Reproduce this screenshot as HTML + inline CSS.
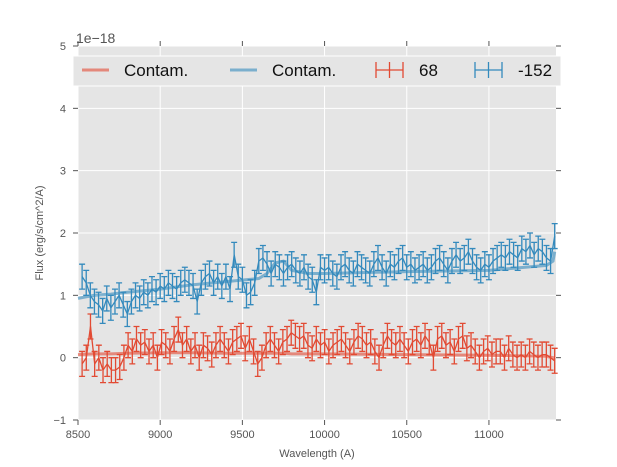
<!DOCTYPE html>
<html><head><meta charset="utf-8">
<style>
html,body{margin:0;padding:0;background:#fff;}
svg{display:block;font-family:"Liberation Sans",sans-serif;}
</style></head>
<body>
<svg id="chart" width="617" height="467" viewBox="0 0 617 467">
  <rect x="78" y="46" width="478" height="374" fill="#E5E5E5"/>
  <g id="grid"></g>
  <g id="ticks"></g>
  <g id="series"></g>
  <text x="76" y="43" font-size="14" fill="#555">1e−18</text>
  <text x="317" y="457" font-size="11" fill="#555" text-anchor="middle">Wavelength (A)</text>
  <text transform="translate(43,233) rotate(-90)" font-size="11" fill="#555" text-anchor="middle">Flux (erg/s/cm^2/A)</text>
  <g>
    <rect x="73" y="56" width="488" height="30" fill="#E5E5E5" stroke="#fff" stroke-width="1"/>
    <line x1="82" y1="70" x2="109" y2="70" stroke="#E24A33" stroke-opacity="0.6" stroke-width="3"/>
    <text x="124" y="76" font-size="17" fill="#111">Contam.</text>
    <line x1="230" y1="70" x2="257" y2="70" stroke="#348ABD" stroke-opacity="0.6" stroke-width="3"/>
    <text x="272" y="76" font-size="17" fill="#111">Contam.</text>
    <g stroke="#E24A33" stroke-width="1.3">
      <line x1="376" y1="70" x2="403" y2="70"/><line x1="389.5" y1="62" x2="389.5" y2="78"/>
      <line x1="376" y1="62" x2="376" y2="78"/><line x1="403" y1="62" x2="403" y2="78"/>
    </g>
    <text x="419" y="76" font-size="17" fill="#111">68</text>
    <g stroke="#348ABD" stroke-width="1.3">
      <line x1="475" y1="70" x2="502" y2="70"/><line x1="488.5" y1="62" x2="488.5" y2="78"/>
      <line x1="475" y1="62" x2="475" y2="78"/><line x1="502" y1="62" x2="502" y2="78"/>
    </g>
    <text x="518" y="76" font-size="17" fill="#111">-152</text>
  </g>
</svg>
<script>
const xTicks = [8500, 9000, 9500, 10000, 10500, 11000];
const yTicks = [-1, 0, 1, 2, 3, 4, 5];
const redFlux = [-0.1,0.0,0.5,-0.1,0.0,-0.2,-0.1,-0.2,-0.2,-0.15,0.0,0.2,0.1,0.3,0.2,0.25,0.1,0.2,0.0,0.25,0.2,0.1,0.3,0.45,0.2,0.3,0.1,0.2,0.0,0.2,0.15,0.05,0.2,0.3,0.2,0.1,0.25,0.3,0.35,0.15,0.3,0.1,-0.1,0.0,0.2,0.3,0.2,0.1,0.25,0.3,0.4,0.35,0.3,0.35,0.2,0.15,0.3,0.2,0.25,0.1,0.2,0.25,0.3,0.2,0.1,0.25,0.35,0.3,0.2,0.25,0.1,0.0,0.2,0.35,0.25,0.2,0.3,0.2,0.1,0.25,0.3,0.2,0.35,0.25,0.0,0.3,0.35,0.2,0.25,0.1,0.3,0.35,0.15,0.2,0.1,0.0,0.1,0.15,0.05,0.1,0.1,0.0,0.15,0.05,0.0,0.05,0.0,0.1,0.05,0.0,0.05,0.05,0.0,-0.05];
const redErr = 0.2;
const blueFlux = [1.3,1.2,1.0,0.9,0.85,0.75,0.95,0.8,0.9,1.0,0.85,0.7,0.9,1.0,0.95,1.05,1.0,1.1,1.05,1.15,1.1,1.2,1.15,1.1,1.2,1.25,1.2,1.15,0.9,1.2,1.3,1.35,1.2,1.3,1.15,1.3,1.1,1.65,1.3,1.25,1.0,1.05,1.2,1.55,1.6,1.5,1.35,1.5,1.45,1.35,1.45,1.5,1.4,1.35,1.45,1.3,1.25,1.05,1.45,1.4,1.45,1.35,1.3,1.45,1.5,1.4,1.35,1.5,1.45,1.4,1.35,1.5,1.6,1.45,1.35,1.5,1.45,1.55,1.6,1.45,1.5,1.4,1.45,1.5,1.4,1.45,1.55,1.6,1.5,1.4,1.55,1.65,1.55,1.6,1.7,1.55,1.45,1.4,1.5,1.45,1.55,1.6,1.65,1.6,1.7,1.65,1.6,1.75,1.7,1.8,1.65,1.75,1.7,1.6,1.55,1.95];
const blueErr = 0.2;
const contamWave = [8500,8600,8700,8800,9000,9200,9400,9600,9650,9700,9750,9800,9900,10000,10500,11000,11350,11390,11400];
const redContam = [0.05,0.06,0.06,0.07,0.08,0.08,0.07,0.07,0.07,0.07,0.07,0.06,0.06,0.06,0.05,0.04,0.02,0.0,0.0];
const blueContam = [0.95,1.0,1.02,1.05,1.1,1.17,1.22,1.27,1.35,1.52,1.55,1.4,1.35,1.35,1.38,1.4,1.48,1.55,1.7];

const X0=78, X1=556, Y0=46, Y1=420;
const xMin=8500, xMax=11408, yMin=-1, yMax=5;
const sx = v => X0 + (v-xMin)/(xMax-xMin)*(X1-X0);
const sy = v => Y1 - (v-yMin)/(yMax-yMin)*(Y1-Y0);
const NS="http://www.w3.org/2000/svg";
function mk(tag, attrs, parent){const e=document.createElementNS(NS,tag);for(const k in attrs)e.setAttribute(k,attrs[k]);parent.appendChild(e);return e;}
const grid=document.getElementById('grid'), ticks=document.getElementById('ticks'), series=document.getElementById('series');

xTicks.forEach(t=>{
  const x=sx(t);
  const g=mk('line',{x1:x,y1:Y0,x2:x,y2:Y1,stroke:'#fff','stroke-width':1},grid);
  
  
  mk('line',{x1:x,y1:Y1,x2:x,y2:Y1+5,stroke:'#555'},ticks);
  mk('line',{x1:x,y1:Y0,x2:x,y2:Y0-5,stroke:'#555'},ticks);
  const l=mk('text',{x:x,y:Y1+18,'font-size':11,fill:'#555','text-anchor':'middle'},ticks);
  l.textContent=t;
  
  
});
yTicks.forEach(t=>{
  const y=sy(t);
  const g=mk('line',{x1:X0,y1:y,x2:X1,y2:y,stroke:'#fff','stroke-width':1},grid);
  
  
  mk('line',{x1:X0-5,y1:y,x2:X0,y2:y,stroke:'#555'},ticks);
  mk('line',{x1:X1,y1:y,x2:X1+5,y2:y,stroke:'#555'},ticks);
  const l=mk('text',{x:X0-12,y:y+4,'font-size':11,fill:'#555','text-anchor':'end'},ticks);
  l.textContent=t===-1?'−1':t;
  
  
});

function contam(vals,color,name){
  const d=contamWave.map((w,i)=>(i?'L':'M')+sx(w).toFixed(1)+','+sy(vals[i]).toFixed(1)).join('');
  const p=mk('path',{d:d,fill:'none',stroke:color,'stroke-opacity':0.6,'stroke-width':3},series);
  
  
}
function errSeries(vals,err,color,name){
  const n=vals.length, step=(11400-8525)/(n-1);
  const g=mk('g',{stroke:color,'stroke-width':1.3,fill:'none'},series);
  
  
  let d='';
  vals.forEach((v,i)=>{
    const x=sx(8525+i*step), y=sy(v), yt=sy(v+err), yb=sy(v-err);
    d+=(i?'L':'M')+x.toFixed(1)+','+y.toFixed(1);
    const b=mk('path',{d:`M${x},${yt}L${x},${yb}M${x-3},${yt}L${x+3},${yt}M${x-3},${yb}L${x+3},${yb}`},g);
    
    
  });
  const l=mk('path',{d:d},g);
  
  
}
contam(redContam,'#E24A33','contam-line-red');
contam(blueContam,'#348ABD','contam-line-blue');
errSeries(redFlux,redErr,'#E24A33','series-68');
errSeries(blueFlux,blueErr,'#348ABD','series-minus152');
</script>
</body></html>
